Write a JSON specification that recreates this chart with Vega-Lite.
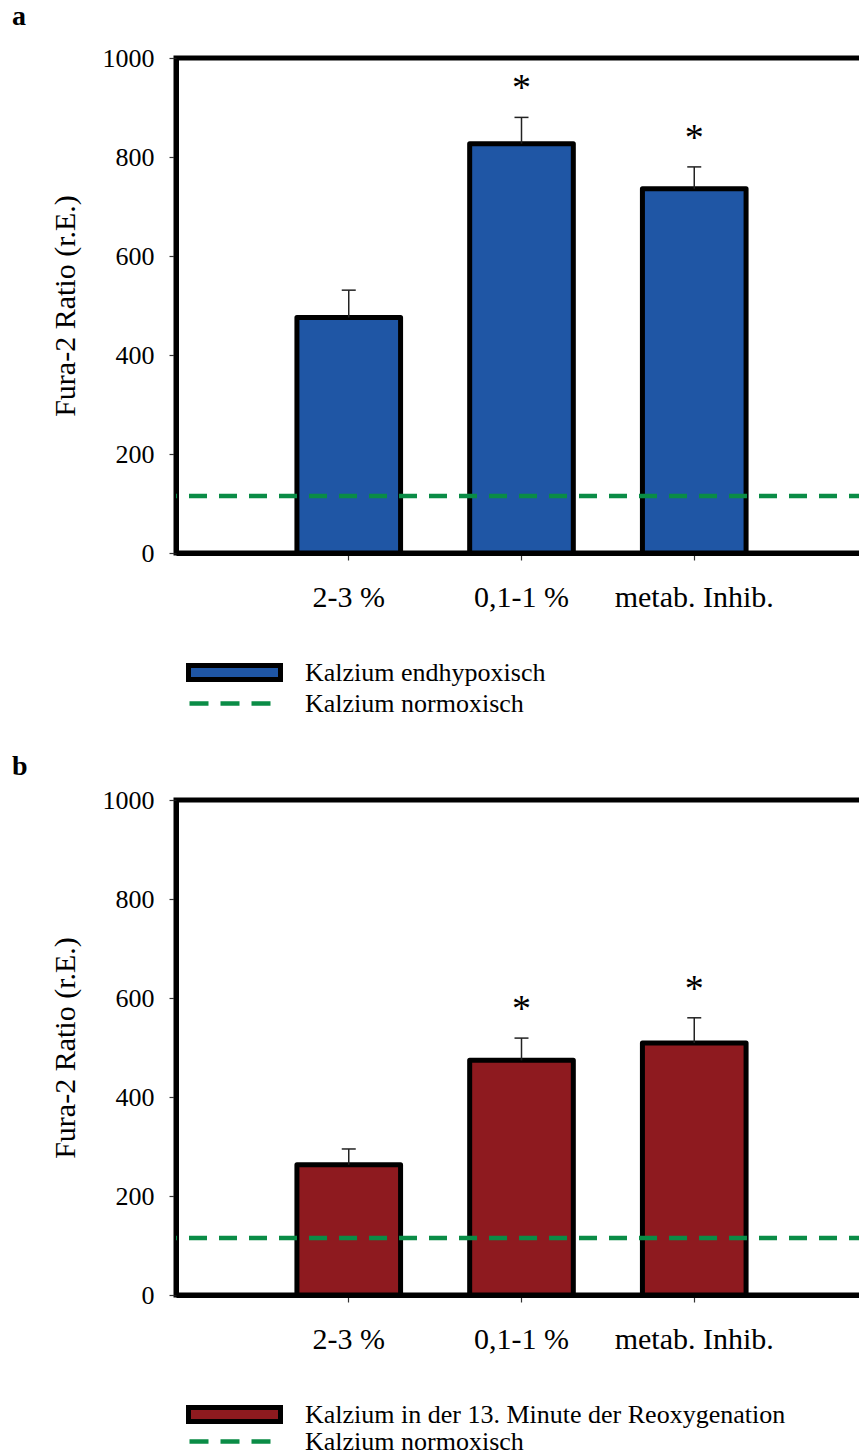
{
  "$schema": "https://vega.github.io/schema/vega-lite/v6.json",
  "background": "white",
  "padding": {"left": 9, "top": 0, "right": 0, "bottom": 0},
  "datasets": {
    "bars": [
      {"panel": "a", "group": "2-3 %", "series": "Kalzium endhypoxisch", "value": 476, "upper": 531, "sig": ""},
      {"panel": "a", "group": "0,1-1 %", "series": "Kalzium endhypoxisch", "value": 827, "upper": 880, "sig": "*"},
      {"panel": "a", "group": "metab. Inhib.", "series": "Kalzium endhypoxisch", "value": 736, "upper": 780, "sig": "*"},
      {"panel": "b", "group": "2-3 %", "series": "Kalzium in der 13. Minute der Reoxygenation", "value": 263, "upper": 295, "sig": ""},
      {"panel": "b", "group": "0,1-1 %", "series": "Kalzium in der 13. Minute der Reoxygenation", "value": 474, "upper": 519, "sig": "*"},
      {"panel": "b", "group": "metab. Inhib.", "series": "Kalzium in der 13. Minute der Reoxygenation", "value": 509, "upper": 560, "sig": "*"}
    ],
    "ref": [
      {"panel": "a", "ref": "Kalzium normoxisch", "value": 115},
      {"panel": "b", "ref": "Kalzium normoxisch", "value": 115}
    ]
  },
  "vconcat": [
    {
      "width": 691,
      "height": 495,
      "title": {"text": "a", "anchor": "start", "frame": "bounds", "dx": -38, "offset": 14},
      "layer": [
        {
          "data": {"name": "bars"},
          "transform": [{"filter": "datum.panel === 'a'"}],
          "mark": {"type": "bar", "stroke": "black", "strokeWidth": 5, "strokeJoin": "round"},
          "encoding": {
            "x": {"field": "group", "type": "nominal", "sort": null, "title": null,
                  "scale": {"paddingInner": 0.40, "paddingOuter": 0.70}},
            "y": {"field": "value", "type": "quantitative", "title": "Fura-2 Ratio (r.E.)",
                  "scale": {"domain": [0, 1000], "nice": false},
                  "axis": {"values": [0, 200, 400, 600, 800, 1000], "format": "d"}},
            "fill": {"field": "series", "type": "nominal",
                     "scale": {"range": ["#1f56a5"]},
                     "legend": {"title": null, "orient": "none", "legendX": 10, "legendY": 566,
                                "symbolType": "M-1,-0.15H1V0.15H-1Z", "symbolSize": 8464,
                                "symbolStrokeColor": "black", "symbolStrokeWidth": 5, "symbolOpacity": 1,
                                "labelOffset": 22}}
          }
        },
        {
          "data": {"name": "bars"},
          "transform": [{"filter": "datum.panel === 'a'"}],
          "mark": {"type": "rule", "color": "#222222", "strokeWidth": 1.5},
          "encoding": {
            "x": {"field": "group", "type": "nominal", "sort": null},
            "y": {"field": "value", "type": "quantitative"},
            "y2": {"field": "upper"}
          }
        },
        {
          "data": {"name": "bars"},
          "transform": [{"filter": "datum.panel === 'a'"}],
          "mark": {"type": "tick", "orient": "horizontal", "color": "#222222", "size": 14, "thickness": 1.5, "opacity": 1},
          "encoding": {
            "x": {"field": "group", "type": "nominal", "sort": null},
            "y": {"field": "upper", "type": "quantitative"}
          }
        },
        {
          "data": {"name": "bars"},
          "transform": [{"filter": "datum.panel === 'a'"}],
          "mark": {"type": "text", "fontSize": 38, "font": "Liberation Serif", "color": "black", "baseline": "alphabetic", "dy": -17},
          "encoding": {
            "x": {"field": "group", "type": "nominal", "sort": null},
            "y": {"field": "upper", "type": "quantitative"},
            "text": {"field": "sig"}
          }
        },
        {
          "data": {"name": "ref"},
          "transform": [{"filter": "datum.panel === 'a'"}],
          "mark": {"type": "rule", "strokeDash": [18, 12], "strokeWidth": 4.5},
          "encoding": {
            "y": {"field": "value", "type": "quantitative"},
            "stroke": {"field": "ref", "type": "nominal",
                       "scale": {"range": ["#0a8c46"]},
                       "legend": {"title": null, "orient": "none", "legendX": 11, "legendY": 602,
                                  "symbolType": "stroke", "symbolSize": 6724, "symbolDash": [19, 12],
                                  "symbolStrokeWidth": 4.5, "labelOffset": 31}}
          }
        }
      ],
      "resolve": {"scale": {"fill": "independent", "stroke": "independent"}}
    },
    {
      "width": 691,
      "height": 495,
      "title": {"text": "b", "anchor": "start", "frame": "bounds", "dx": -38, "offset": 6},
      "layer": [
        {
          "data": {"name": "bars"},
          "transform": [{"filter": "datum.panel === 'b'"}],
          "mark": {"type": "bar", "stroke": "black", "strokeWidth": 5, "strokeJoin": "round"},
          "encoding": {
            "x": {"field": "group", "type": "nominal", "sort": null, "title": null,
                  "scale": {"paddingInner": 0.40, "paddingOuter": 0.70}},
            "y": {"field": "value", "type": "quantitative", "title": "Fura-2 Ratio (r.E.)",
                  "scale": {"domain": [0, 1000], "nice": false},
                  "axis": {"values": [0, 200, 400, 600, 800, 1000], "format": "d"}},
            "fill": {"field": "series", "type": "nominal",
                     "scale": {"range": ["#8e1a1f"]},
                     "legend": {"title": null, "orient": "none", "legendX": 10, "legendY": 566,
                                "symbolType": "M-1,-0.15H1V0.15H-1Z", "symbolSize": 8464,
                                "symbolStrokeColor": "black", "symbolStrokeWidth": 5, "symbolOpacity": 1,
                                "labelOffset": 22}}
          }
        },
        {
          "data": {"name": "bars"},
          "transform": [{"filter": "datum.panel === 'b'"}],
          "mark": {"type": "rule", "color": "#222222", "strokeWidth": 1.5},
          "encoding": {
            "x": {"field": "group", "type": "nominal", "sort": null},
            "y": {"field": "value", "type": "quantitative"},
            "y2": {"field": "upper"}
          }
        },
        {
          "data": {"name": "bars"},
          "transform": [{"filter": "datum.panel === 'b'"}],
          "mark": {"type": "tick", "orient": "horizontal", "color": "#222222", "size": 14, "thickness": 1.5, "opacity": 1},
          "encoding": {
            "x": {"field": "group", "type": "nominal", "sort": null},
            "y": {"field": "upper", "type": "quantitative"}
          }
        },
        {
          "data": {"name": "bars"},
          "transform": [{"filter": "datum.panel === 'b'"}],
          "mark": {"type": "text", "fontSize": 38, "font": "Liberation Serif", "color": "black", "baseline": "alphabetic", "dy": -17},
          "encoding": {
            "x": {"field": "group", "type": "nominal", "sort": null},
            "y": {"field": "upper", "type": "quantitative"},
            "text": {"field": "sig"}
          }
        },
        {
          "data": {"name": "ref"},
          "transform": [{"filter": "datum.panel === 'b'"}],
          "mark": {"type": "rule", "strokeDash": [18, 12], "strokeWidth": 4.5},
          "encoding": {
            "y": {"field": "value", "type": "quantitative"},
            "stroke": {"field": "ref", "type": "nominal",
                       "scale": {"range": ["#0a8c46"]},
                       "legend": {"title": null, "orient": "none", "legendX": 11, "legendY": 598,
                                  "symbolType": "stroke", "symbolSize": 6724, "symbolDash": [19, 12],
                                  "symbolStrokeWidth": 4.5, "labelOffset": 31}}
          }
        }
      ],
      "resolve": {"scale": {"fill": "independent", "stroke": "independent"}}
    }
  ],
  "spacing": 30,
  "resolve": {"scale": {"fill": "independent", "stroke": "independent"}, "legend": {"fill": "independent", "stroke": "independent"}},
  "config": {
    "font": "Liberation Serif",
    "view": {"stroke": "black", "strokeWidth": 5},
    "title": {"font": "Liberation Serif", "fontSize": 28, "fontWeight": "bold", "color": "black"},
    "axis": {
      "labelFont": "Liberation Serif", "titleFont": "Liberation Serif",
      "labelColor": "black", "titleColor": "black", "titleFontWeight": "normal",
      "domainColor": "black", "domainWidth": 5, "tickColor": "#333333", "tickWidth": 1.2,
      "tickSize": 7, "grid": false
    },
    "axisY": {"labelFontSize": 26, "titleFontSize": 30, "labelPadding": 15, "titlePadding": 22},
    "axisX": {"labelFontSize": 30, "labelPadding": 22, "labelAngle": 0},
    "legend": {"labelFont": "Liberation Serif", "labelFontSize": 26, "labelColor": "black", "labelOffset": 20, "labelLimit": 0}
  }
}
